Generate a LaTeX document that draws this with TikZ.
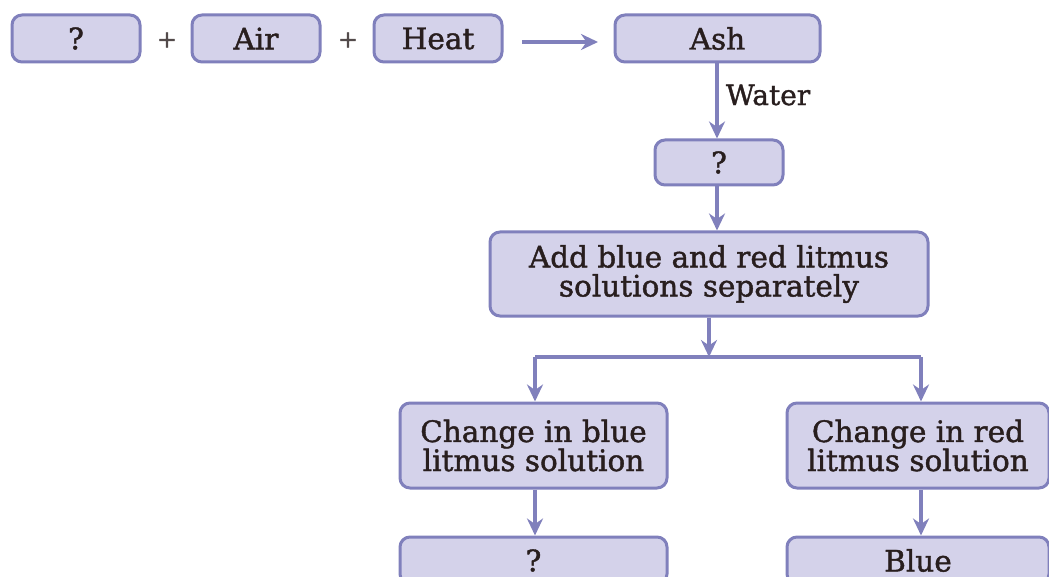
\documentclass[tikz,border=0pt]{standalone}
\usepackage{fontspec}
\setmainfont{DejaVu Serif}[FakeBold=1.4]
\usetikzlibrary{arrows.meta}
\definecolor{boxfill}{RGB}{212,210,234}
\definecolor{boxline}{RGB}{128,128,188}
\definecolor{txt}{RGB}{40,30,30}
\begin{document}
\begin{tikzpicture}[x=1pt,y=-1pt,
  bx/.style={draw=boxline,fill=boxfill,line width=3pt,rounded corners=10pt,inner sep=0pt,text=txt,font=\fontsize{29.5}{29}\selectfont,align=center},
  conn/.style={draw=boxline,line width=3.2pt,-{Stealth[length=17pt,width=16pt]}},
  plain/.style={draw=boxline,line width=3.2pt},
  sym/.style={text=txt!80,font=\fontsize{24}{24}\selectfont},
  lbl/.style={text=txt,font=\fontsize{28}{28}\selectfont}]
\clip (0,0) rectangle (1049,577);
\useasboundingbox (0,0) rectangle (1049,577);
\node[bx,minimum width=128pt,minimum height=47pt] (q1) at (76,38.5) {?};
\node[sym] (p1) at (167,40) {+};
\node[bx,minimum width=128pt,minimum height=47pt] (air) at (256,38.5) {Air};
\node[sym] (p2) at (348,40) {+};
\node[bx,minimum width=128pt,minimum height=47pt] (heat) at (438,38.5) {Heat};
\node[bx,minimum width=205pt,minimum height=47pt] (ash) at (717.5,38.5) {Ash};
\node[bx,minimum width=128pt,minimum height=45pt] (q2) at (719,162.5) {?};
\node[bx,minimum width=438pt,minimum height=84pt] (add) at (709,274) {Add blue and red litmus\\solutions separately};
\node[bx,minimum width=267pt,minimum height=85pt] (cb) at (533.5,445.5) {Change in blue\\litmus solution};
\node[bx,minimum width=262pt,minimum height=85pt] (cr) at (918,445.5) {Change in red\\litmus solution};
\node[bx,minimum width=267pt,minimum height=47pt] (q3) at (533.5,560.5) {?};
\node[bx,minimum width=262pt,minimum height=47pt] (blue) at (918,560.5) {Blue};
\coordinate (s) at (522,42);
\coordinate (e) at (598,42);
\coordinate (j) at (709,357);
\coordinate (jl) at (535,357);
\coordinate (jr) at (921,357);
\draw[conn] (s) -- (e);
\draw[conn] (ash.south -| 717,0) -- node[lbl,right=4pt,pos=0.42]{Water} (q2.north -| 717,0);
\draw[conn] (q2.south -| 717,0) -- (add.north -| 717,0);
\draw[conn] (add.south -| j) -- (j);
\draw[plain] (jl) -- (jr);
\draw[conn] (jl) -- (cb.north -| jl);
\draw[conn] (jr) -- (cr.north -| jr);
\draw[conn] (cb.south -| jl) -- (q3.north -| jl);
\draw[conn] (cr.south -| jr) -- (blue.north -| jr);
\end{tikzpicture}
\end{document}
